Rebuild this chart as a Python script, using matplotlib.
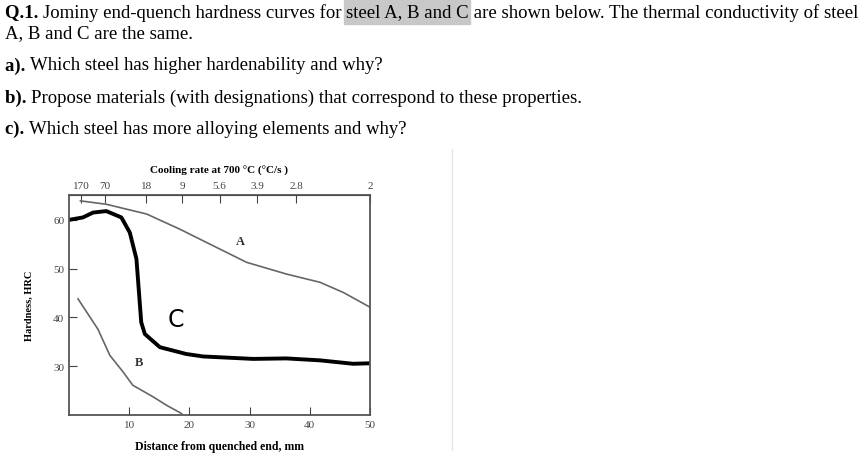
import matplotlib
matplotlib.use("Agg")
import matplotlib.pyplot as plt
from matplotlib.patches import Rectangle

A_x = [1.9, 6.2, 12.9, 18.4, 22.8, 29.5, 36.1, 41.7, 45.6, 50]
A_y = [63.9, 63.2, 61.2, 58.1, 55.4, 51.3, 48.9, 47.2, 45.1, 42.1]
B_x = [1.5, 4.8, 6.8, 9, 10.6, 14, 16.2, 18.7]
B_y = [43.8, 37.6, 32.2, 28.8, 26.1, 23.7, 22, 20.3]
C_x = [0, 2.3, 4, 6.2, 8.7, 10.1, 11.2, 12, 12.6, 15.1, 19.5, 22.3, 30.6, 36.1, 41.7, 47.2, 50]
C_y = [60, 60.5, 61.5, 61.8, 60.5, 57.4, 52, 39, 36.6, 33.9, 32.5, 32, 31.5, 31.6, 31.2, 30.5, 30.6]
top_pos = [2.0, 6.0, 12.8, 18.8, 25.0, 31.3, 37.7, 50]
top_lab = ["170", "70", "18", "9", "5.6", "3.9", "2.8", "2"]

W, H = 858, 460
fig = plt.figure(figsize=(8.58, 4.60), dpi=100)
serif = "Liberation Serif"

# question text
fig.canvas.draw()
r = fig.canvas.get_renderer()
def seg(parts, x, y, size=13.5):
    for txt, bold in parts:
        t = fig.text(x / W, 1 - y / H, txt, fontsize=size, family=serif,
                     fontweight="bold" if bold else "normal", va="center", ha="left")
        bb = t.get_window_extent(r)
        x += bb.width
    return x

fig.patches.append(Rectangle((344 / W, 1 - 25 / H), 126 / W, 24 / H,
                             transform=fig.transFigure, color="#c8c8c8", zorder=0))
seg([("Q.1. ", True), ("Jominy end-quench hardness curves for ", False),
     ("steel A, B and C", False),
     (" are shown below. The thermal conductivity of steel", False)], 5, 13)
seg([("A, B and C are the same.", False)], 5, 34)
seg([("a). ", True), ("Which steel has higher hardenability and why?", False)], 5, 66)
seg([("b). ", True), ("Propose materials (with designations) that correspond to these properties.", False)], 5, 98)
seg([("c). ", True), ("Which steel has more alloying elements and why?", False)], 5, 129)

fig.add_artist(plt.Line2D([452 / W, 452 / W], [0.02, 1 - 150 / H], color="#e6e6e6", lw=1,
                          transform=fig.transFigure))

ax = fig.add_axes([69 / W, 44 / H, 301 / W, 220 / H])
ax.plot(A_x, A_y, color="#666666", lw=1.2)
ax.plot(B_x, B_y, color="#666666", lw=1.2)
ax.plot(C_x, C_y, color="black", lw=2.8)
ax.text(28.4, 55.7, "A", family=serif, fontweight="bold", fontsize=9, ha="center", va="center", color="#333333")
ax.text(11.6, 30.8, "B", family=serif, fontweight="bold", fontsize=9, ha="center", va="center", color="#333333")
ax.text(17.8, 39.7, "C", family="DejaVu Sans", fontsize=17, ha="center", va="center", color="black")
ax.set_xlim(0, 50)
ax.set_ylim(20, 65.1)
ax.set_xticks([10, 20, 30, 40, 50])
ax.set_yticks([30, 40, 50, 60])
ax.tick_params(direction="in", labelsize=8, length=6, colors="#444444")
for lab in ax.get_xticklabels() + ax.get_yticklabels():
    lab.set_family(serif)
for s in ax.spines.values():
    s.set_color("#555555"); s.set_linewidth(1.3)
ax.set_xlabel("Distance from quenched end, mm", family=serif, fontweight="bold", fontsize=8.5, labelpad=8)
ax.set_ylabel("Hardness, HRC", family=serif, fontweight="bold", fontsize=7.5, labelpad=14)
sec = ax.secondary_xaxis("top")
sec.set_xticks(top_pos)
sec.set_xticklabels(top_lab)
sec.tick_params(direction="in", labelsize=8, length=6, colors="#444444")
for lab in sec.get_xticklabels():
    lab.set_family(serif)
sec.set_xlabel("Cooling rate at 700 °C (°C/s )", family=serif, fontweight="bold", fontsize=8, labelpad=6)
fig.savefig("out.png", dpi=100)
